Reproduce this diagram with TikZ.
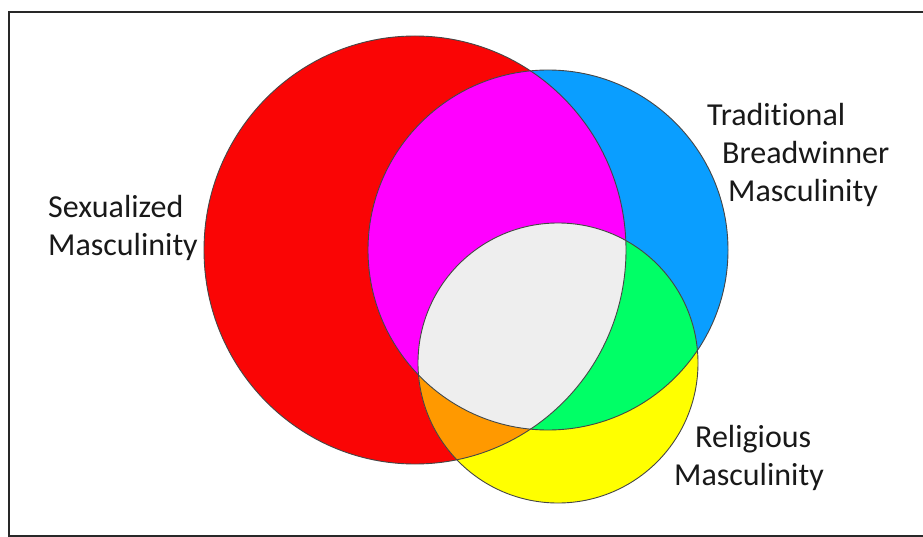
\documentclass[tikz,border=0pt]{standalone}
\usepackage{fontspec}
\setmainfont[Ligatures={NoCommon}]{Carlito}
\definecolor{cRed}{RGB}{250,5,5}
\definecolor{cBlue}{RGB}{10,158,255}
\definecolor{cYellow}{RGB}{255,255,0}
\definecolor{cMagenta}{RGB}{255,0,255}
\definecolor{cGreen}{RGB}{0,255,102}
\definecolor{cOrange}{RGB}{255,153,0}
\definecolor{cGray}{RGB}{238,238,238}
\definecolor{edgecol}{RGB}{70,70,70}
\definecolor{framecol}{RGB}{40,40,40}
\definecolor{txtcol}{RGB}{25,25,25}
\begin{document}
\begin{tikzpicture}[x=1pt,y=-1pt,
  lbl/.style={anchor=base west, inner sep=0pt, font=\fontsize{32}{38}\selectfont, text=txtcol},
  outline/.style={draw=edgecol, line width=0.9pt},
  frameline/.style={draw=framecol, line width=2pt}]
\useasboundingbox (0,0) rectangle (923,537);
\fill[white] (0,0) rectangle (923,537);
\coordinate (R) at (415,250);
\coordinate (B) at (548,250);
\coordinate (Y) at (558,363);
% base fills
\fill[cRed] (R) ellipse [x radius=211, y radius=214];
\fill[cBlue] (B) circle [radius=180];
\fill[cYellow] (Y) circle [radius=140];
% red & blue, red & yellow
\begin{scope}
  \clip (R) ellipse [x radius=211, y radius=214];
  \fill[cMagenta] (B) circle [radius=180];
  \fill[cOrange] (Y) circle [radius=140];
\end{scope}
% blue & yellow
\begin{scope}
  \clip (B) circle [radius=180];
  \fill[cGreen] (Y) circle [radius=140];
\end{scope}
% all three
\begin{scope}
  \clip (R) ellipse [x radius=211, y radius=214];
  \clip (B) circle [radius=180];
  \fill[cGray] (Y) circle [radius=140];
\end{scope}
% outlines
\draw[outline] (R) ellipse [x radius=211, y radius=214];
\draw[outline] (B) circle [radius=180];
\draw[outline] (Y) circle [radius=140];
% labels
\node[lbl] (s1) at (48,218) {Sexualized};
\node[lbl] (s2) at (48,255) {Masculinity};
\node[lbl] (t1) at (707,126) {Traditional};
\node[lbl] (t2) at (722,164) {Breadwinner};
\node[lbl] (t3) at (728,202) {Masculinity};
\node[lbl] (r1) at (695,447) {Religious};
\node[lbl] (r2) at (674,485) {Masculinity};
% frame
\draw[frameline] (923,12) -- (9,12) -- (9,536) -- (923,536);
\end{tikzpicture}
\end{document}
